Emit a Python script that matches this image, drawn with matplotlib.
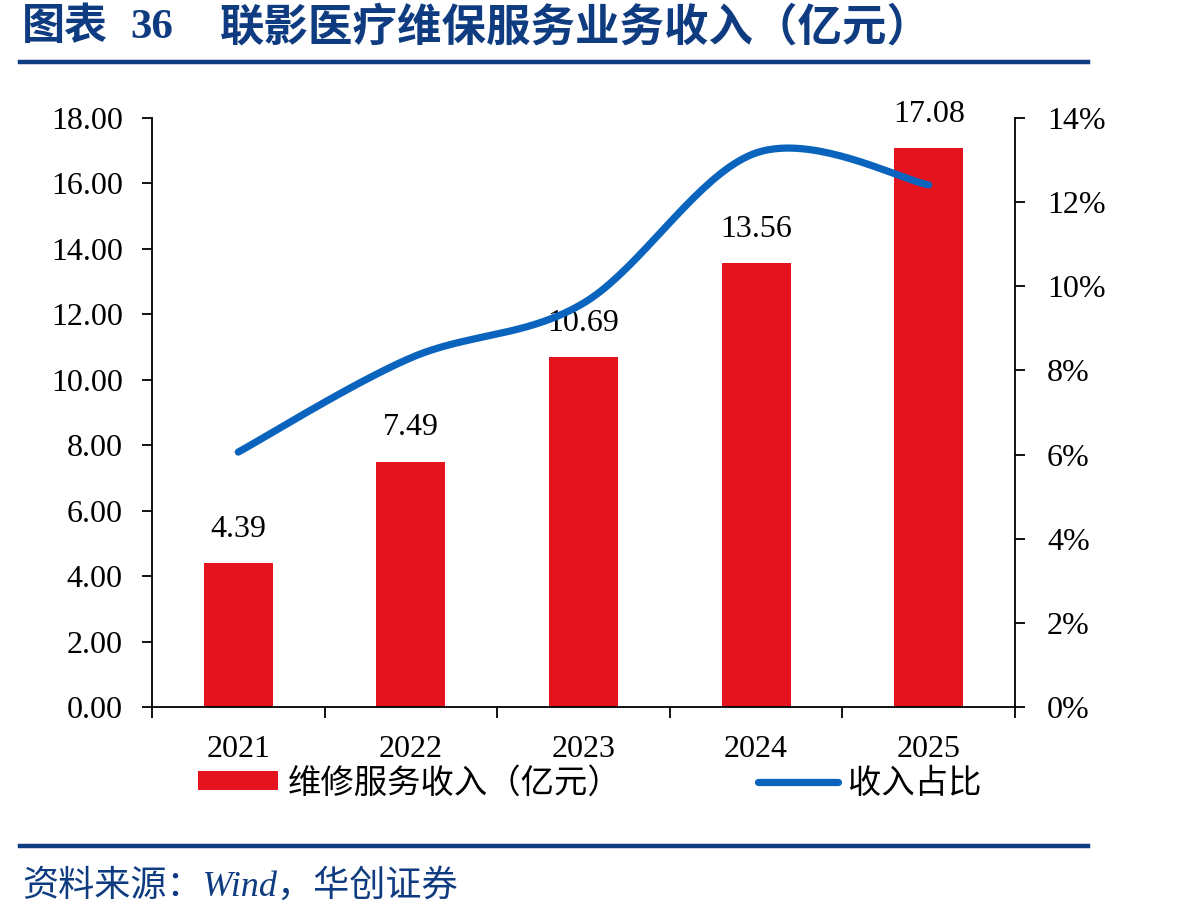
import numpy as np
import matplotlib
matplotlib.use("Agg")
import matplotlib.pyplot as plt
from matplotlib.patches import Patch
from matplotlib.lines import Line2D

years = ["2021", "2022", "2023", "2024", "2025"]
revenue = [4.39, 7.49, 10.69, 13.56, 17.08]
share_pct = [6.06, 8.30, 9.60, 13.17, 12.41]
left_ticks = [0, 2, 4, 6, 8, 10, 12, 14, 16, 18]
right_ticks = [0, 2, 4, 6, 8, 10, 12, 14]

RED = "#E5131D"
BLUE = "#0A64BE"
NAVY = "#0F3C80"
SERIF = ["Liberation Serif", "Noto Sans CJK SC"]
SANS = ["Noto Sans CJK SC", "DejaVu Sans"]


def smooth(xs, ys, n=40):
    """Excel-like smoothed line: cubic Bezier segments with Catmull-Rom tangents."""
    P = np.column_stack([xs, ys]).astype(float)
    out = []
    for i in range(len(P) - 1):
        p0 = P[i - 1] if i > 0 else P[i]
        p1, p2 = P[i], P[i + 1]
        p3 = P[i + 2] if i + 2 < len(P) else P[i + 1]
        c1 = p1 + (p2 - p0) / 6.0
        c2 = p2 - (p3 - p1) / 6.0
        t = np.linspace(0, 1, n)[:, None]
        seg = ((1 - t) ** 3) * p1 + 3 * ((1 - t) ** 2) * t * c1 + 3 * (1 - t) * t ** 2 * c2 + t ** 3 * p2
        out.append(seg if i == 0 else seg[1:])
    s = np.vstack(out)
    return s[:, 0], s[:, 1]


fig = plt.figure(figsize=(11.98, 9.22), dpi=100)
ax = fig.add_axes([152 / 1198, 1 - 707 / 922, (1015 - 152) / 1198, (707 - 118) / 922])
ax2 = ax.twinx()

x = np.arange(len(years))
ax.bar(x, revenue, width=0.4, color=RED, zorder=2)
for xi, v in zip(x, revenue):
    ax.annotate(f"{v:.2f}", (xi, v), xytext=(0, 14), textcoords="offset points",
                ha="center", va="bottom", fontsize=23, family=SERIF, color="black")

sx, sy = smooth(x, share_pct)
ax2.plot(sx, sy, color=BLUE, lw=5.2, solid_capstyle="round", zorder=3)

ax.set_xlim(-0.5, len(years) - 0.5)
ax.set_ylim(0, 18)
ax2.set_ylim(0, 14)
ax.set_yticks(left_ticks)
ax.set_yticklabels([f"{v:.2f}" for v in left_ticks])
ax2.set_yticks(right_ticks)
ax2.set_yticklabels([f"{v}%" for v in right_ticks])
ax.set_xticks(x)
ax.set_xticklabels(years)
ax.set_xticks(np.arange(len(years) + 1) - 0.5, minor=True)

for a in (ax, ax2):
    a.spines["top"].set_visible(False)
    for sp in ("left", "right", "bottom"):
        a.spines[sp].set_linewidth(1.3)
        a.spines[sp].set_color("black")
ax.spines["right"].set_visible(False)
ax2.spines["left"].set_visible(False)
ax2.spines["bottom"].set_visible(False)

ax.tick_params(axis="y", direction="out", length=7, width=1.3, pad=14, labelsize=23)
ax2.tick_params(axis="y", direction="out", length=7, width=1.3, pad=16, labelsize=23)
ax.tick_params(axis="x", which="major", length=0, pad=20, labelsize=23)
ax.tick_params(axis="x", which="minor", direction="out", length=8, width=1.3)
for lab in ax.get_xticklabels() + ax.get_yticklabels() + ax2.get_yticklabels():
    lab.set_family(SERIF)

handles = [Patch(facecolor=RED, edgecolor="none"),
           Line2D([0], [0], color=BLUE, lw=5.2, solid_capstyle="round")]
labels = ["维修服务收入（亿元）", "收入占比"]
fig.legend(handles, labels, loc="center left", bbox_to_anchor=(198 / 1198, 1 - 783 / 922),
           ncol=2, frameon=False, prop={"family": SANS, "size": 24},
           handlelength=2.4, handleheight=0.5, handletextpad=0.3, columnspacing=4.1,
           borderaxespad=0, borderpad=0)

# Title and rules
fig.text(22 / 1198, 1 - 28 / 922, "图表", ha="left", va="center",
         fontsize=31, fontweight="bold", family=SERIF, color=NAVY)
fig.text(130 / 1198, 1 - 28 / 922, "36", ha="left", va="center",
         fontsize=31, fontweight="bold", family=SERIF, color=NAVY)
fig.text(220 / 1198, 1 - 28 / 922, "联影医疗维保服务业务收入（亿元）", ha="left", va="center",
         fontsize=32, fontweight="bold", family=SERIF, color=NAVY)
fig.add_artist(Line2D([20 / 1198, 1088 / 1198], [1 - 62 / 922] * 2, color=NAVY, lw=3.2))
fig.add_artist(Line2D([20 / 1198, 1088 / 1198], [1 - 846 / 922] * 2, color=NAVY, lw=3.2))
fig.text(22 / 1198, 1 - 886 / 922, "资料来源：Wind，华创证券", ha="left", va="center",
         fontsize=26, style="italic", family=SERIF, color=NAVY)

fig.savefig("out.png", dpi=100)
